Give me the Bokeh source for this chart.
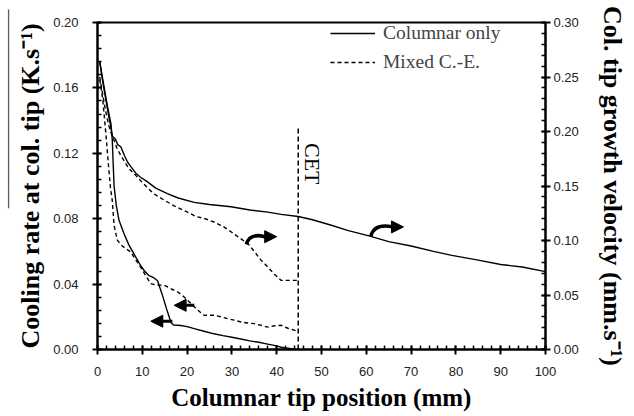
from math import pi
from bokeh.plotting import figure
from bokeh.models import (Range1d, LinearAxis, Legend, LegendItem, Arrow, NormalHead,
                          Label, Title, NumeralTickFormatter, FixedTicker)
from bokeh.embed import file_html
from bokeh.resources import INLINE

# Cooling rate at the columnar tip, columnar-only solidification (K/s)
x_col_cool = [0.5, 1.0, 1.5, 2.0, 2.5, 3.0, 3.3, 3.7, 4.2, 4.8, 5.9, 7.0, 8.1, 9.6, 10.5,
              11.4, 12.5, 13.4, 14.4, 15.4, 16.4, 17.0, 18.6, 20.0, 22.0, 24.0, 26.0, 28.0,
              30.0, 32.0, 34.0, 36.0, 38.0, 40.0, 41.0, 42.5, 44.0, 45.0]
y_col_cool = [0.176, 0.168, 0.160, 0.152, 0.145, 0.138, 0.128, 0.100, 0.088, 0.079, 0.071,
              0.064, 0.0586, 0.0515, 0.048, 0.0454, 0.044, 0.042, 0.034, 0.025, 0.0165,
              0.0150, 0.0147, 0.0140, 0.0125, 0.0110, 0.0096, 0.0085, 0.0075, 0.0064,
              0.0053, 0.0044, 0.0033, 0.0022, 0.0014, 0.0008, 0.0002, 0.0]

# Cooling rate at the columnar tip, mixed columnar-equiaxed case (K/s)
x_mix_cool = [0.5, 0.8, 1.2, 1.6, 2.0, 2.4, 2.9, 3.3, 3.7, 4.4, 5.2, 6.2, 7.4, 8.5, 9.6,
              10.8, 11.9, 13.0, 14.9, 16.5, 17.9, 19.0, 20.1, 21.3, 22.4, 23.8, 25.0, 26.1,
              27.5, 29.1, 30.5, 32.1, 33.5, 35.0, 36.5, 38.0, 39.5, 41.0, 42.5, 44.0, 45.0]
y_mix_cool = [0.165, 0.160, 0.152, 0.140, 0.128, 0.114, 0.099, 0.091, 0.076, 0.067, 0.064,
              0.062, 0.0597, 0.055, 0.0505, 0.045, 0.0403, 0.0395, 0.0393, 0.037, 0.0352,
              0.033, 0.0301, 0.027, 0.024, 0.0209, 0.021, 0.0209, 0.020, 0.0188, 0.0180,
              0.0168, 0.0162, 0.0158, 0.0148, 0.0137, 0.0145, 0.0148, 0.0130, 0.0117, 0.0112]

# Columnar tip growth velocity, columnar-only case (mm/s)
x_col_vel = [0.5, 1.0, 1.5, 2.0, 2.5, 2.9, 3.3, 4.0, 4.5, 5.2, 6.0, 6.7, 7.4, 8.5, 9.6,
             11.1, 13.0, 15.6, 18.0, 21.6, 25.0, 29.8, 34.0, 38.0, 41.0, 44.8, 48.0, 52.2,
             56.0, 60.8, 65.0, 70.0, 75.0, 79.1, 85.0, 90.0, 94.8, 100.0]
y_col_vel = [0.264, 0.250, 0.238, 0.226, 0.214, 0.206, 0.196, 0.193, 0.188, 0.186, 0.178,
             0.172, 0.168, 0.162, 0.158, 0.154, 0.148, 0.143, 0.139, 0.135, 0.133, 0.131,
             0.128, 0.126, 0.124, 0.122, 0.119, 0.114, 0.109, 0.104, 0.099, 0.095, 0.090,
             0.0864, 0.082, 0.078, 0.0757, 0.0715]

# Columnar tip growth velocity, mixed columnar-equiaxed case (mm/s)
x_mix_vel = [0.5, 1.0, 1.5, 2.0, 2.5, 3.0, 3.5, 4.4, 5.5, 7.0, 8.5, 9.6, 11.0, 12.5, 14.9,
             17.0, 20.1, 22.0, 24.0, 26.0, 28.0, 29.8, 31.5, 33.6, 35.0, 36.5, 38.0, 39.5,
             41.0, 42.5, 44.0, 45.0]
y_mix_vel = [0.250, 0.238, 0.226, 0.215, 0.206, 0.199, 0.194, 0.184, 0.176, 0.166, 0.160,
             0.155, 0.149, 0.143, 0.137, 0.132, 0.126, 0.122, 0.120, 0.117, 0.113, 0.108,
             0.103, 0.097, 0.090, 0.082, 0.0757, 0.069, 0.0634, 0.0634, 0.0634, 0.0634]

# Columnar-to-equiaxed transition position (mm)
cet_x = 44.8
cet_top = 0.136

x_ticks = [0, 10, 20, 30, 40, 50, 60, 70, 80, 90, 100]
left_ticks = [0.0, 0.04, 0.08, 0.12, 0.16, 0.20]
right_ticks = [0.0, 0.05, 0.10, 0.15, 0.20, 0.25, 0.30]

SERIF = "Liberation Serif"
SANS = "Liberation Sans"

p = figure(width=634, height=416, x_range=Range1d(0, 100), y_range=Range1d(0, 0.2),
           output_backend="svg", toolbar_location=None,
           min_border_left=97, min_border_right=89, min_border_top=22, min_border_bottom=67)
p.extra_y_ranges = {"vel": Range1d(0, 0.3)}
p.xgrid.visible = False
p.ygrid.visible = False
p.outline_line_color = "black"
p.outline_line_width = 2
p.background_fill_color = "white"
p.border_fill_color = "white"

right_axis = LinearAxis(y_range_name="vel")
p.add_layout(right_axis, "right")


def style_axis(ax, ticks, minor, fmt):
    ax.ticker = FixedTicker(ticks=ticks, minor_ticks=minor)
    ax.formatter = NumeralTickFormatter(format=fmt)
    ax.axis_line_width = 2
    ax.axis_line_color = "black"
    ax.major_tick_line_width = 2
    ax.major_tick_line_color = "black"
    ax.minor_tick_line_width = 1.5
    ax.minor_tick_line_color = "black"
    ax.major_tick_out = 5
    ax.major_tick_in = 4
    ax.minor_tick_in = 4
    ax.minor_tick_out = 0
    ax.major_label_text_font = SANS
    ax.major_label_text_font_size = "13px"
    ax.major_label_text_color = "#222222"
    ax.axis_label_text_font = SERIF
    ax.axis_label_text_font_style = "bold"
    ax.axis_label_text_color = "black"
    ax.axis_label_text_font_size = "26px"


xa = p.xaxis[0]
ya = p.yaxis[0]
# minor ticks every 2 mm, 0.008 K/s and 0.01 mm/s
style_axis(xa, x_ticks, [v * 2 for v in range(51)], "0")
style_axis(ya, left_ticks, [round(v * 0.008, 3) for v in range(26)], "0.00")
style_axis(right_axis, right_ticks, [round(v * 0.01, 2) for v in range(31)], "0.00")

xa.axis_label = "Columnar tip position (mm)"
xa.axis_label_text_font_size = "25px"
xa.axis_label_standoff = 5
xa.major_label_standoff = 12

ya.axis_label = "Cooling rate at col. tip (K.s\u207b\u00b9)"
ya.axis_label_standoff = 5
ya.major_label_standoff = 14

right_axis.axis_label = "Col. tip growth velocity (mm.s\u207b\u00b9)"
right_axis.axis_label_standoff = 16
right_axis.major_label_standoff = 3

# thin rule running beside the left axis title
p.add_layout(Title(text="\u2500" * 33, align="right", standoff=0, offset=-13,
                   text_font="DejaVu Sans Mono", text_font_size="10px",
                   text_font_style="normal", text_color="black"), "left")

DASH = "4 3"
r_col = p.line(x_col_cool, y_col_cool, line_color="black", line_width=1.4)
r_mix = p.line(x_mix_cool, y_mix_cool, line_color="black", line_width=1.4, line_dash=DASH)
p.line(x_col_vel, y_col_vel, line_color="black", line_width=1.4, y_range_name="vel")
p.line(x_mix_vel, y_mix_vel, line_color="black", line_width=1.4, line_dash=DASH,
       y_range_name="vel")

# CET marker
p.segment(x0=[cet_x], y0=[0], x1=[cet_x], y1=[cet_top], line_color="black",
          line_width=1.5, line_dash="5 3")
p.add_layout(Label(x=cet_x, y=0.1263, text="CET", angle=-pi / 2, x_offset=2,
                   text_align="left", text_baseline="bottom", text_font=SERIF,
                   text_font_size="22px", text_color="black"))

# curved arrows pointing at the velocity curves (right axis)
p.quadratic(x0=[33.2, 61.0], y0=[0.0643, 0.0693], cx=[34.0, 61.8], cy=[0.0715, 0.0772],
            x1=[37.3, 65.8], y1=[0.0690, 0.0750], line_color="black", line_width=3.5)
for xs, xe, yy in [(37.0, 40.0, 0.0690), (65.5, 68.3, 0.0750)]:
    p.add_layout(Arrow(x_start=xs, y_start=yy, x_end=xe, y_end=yy, line_width=3,
                       end=NormalHead(size=12, fill_color="black", line_color="black")))

# straight arrows pointing at the cooling-rate curves (left axis)
for xs, xe, yy in [(21.6, 17.1, 0.027), (16.7, 11.9, 0.0173)]:
    p.add_layout(Arrow(x_start=xs, y_start=yy, x_end=xe, y_end=yy, line_width=3,
                       end=NormalHead(size=12, fill_color="black", line_color="black")))

legend = Legend(items=[LegendItem(label="Columnar only", renderers=[r_col]),
                       LegendItem(label="Mixed C.-E.", renderers=[r_mix])],
                location=(233, 276), glyph_width=45, glyph_height=20, label_height=20,
                spacing=7, padding=0, margin=0, label_standoff=8,
                label_text_font=SERIF, label_text_font_size="19.5px",
                background_fill_alpha=0, border_line_alpha=0)
p.add_layout(legend, "center")

with open("out.html", "w") as f:
    f.write(file_html(p, INLINE))
